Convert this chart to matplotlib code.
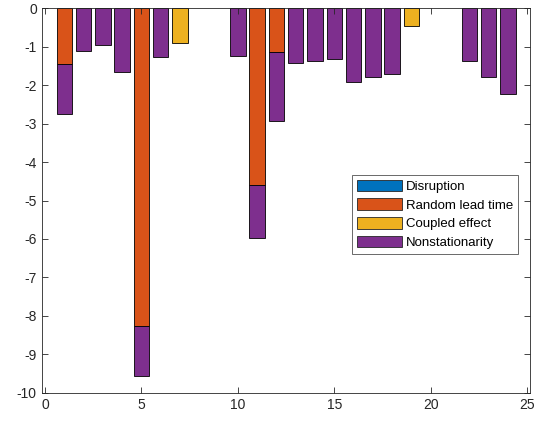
import numpy as np
import matplotlib
matplotlib.use("Agg")
import matplotlib.pyplot as plt
from matplotlib.patches import Patch

plt.rcParams['font.family'] = ['Liberation Sans', 'DejaVu Sans']
plt.rcParams['axes.unicode_minus'] = False

positions = np.arange(1, 25)
series_names = ["Disruption", "Random lead time", "Coupled effect", "Nonstationarity"]
disruption = [0.0] * 24
random_lead_time = [-1.45, 0, 0, 0, -8.27, 0, 0, 0, 0, 0, -4.60, -1.13,
                    0, 0, 0, 0, 0, 0, 0, 0, 0, 0, 0, 0]
coupled_effect = [0, 0, 0, 0, 0, 0, -0.91, 0, 0, 0, 0, 0,
                  0, 0, 0, 0, 0, 0, -0.46, 0, 0, 0, 0, 0]
nonstationarity = [-1.29, -1.10, -0.96, -1.66, -1.30, -1.27, 0, 0, 0, -1.24, -1.38, -1.79,
                   -1.42, -1.36, -1.32, -1.92, -1.78, -1.71, 0, 0, 0, -1.36, -1.78, -2.23]
colors = ["#0072BD", "#D95319", "#EDB120", "#7E2F8E"]

W, H = 544, 421
fig = plt.figure(figsize=(W / 100, H / 100), dpi=100)
ax = fig.add_axes([41.7 / W, 1 - 392.7 / H, (530 - 41.7) / W, (392.7 - 8.3) / H])

# stacked bars; segments with zero height are not drawn
bottom = np.zeros(len(positions))
handles = []
for name, vals, c in zip(series_names,
                         [disruption, random_lead_time, coupled_effect, nonstationarity],
                         colors):
    vals = np.asarray(vals, dtype=float)
    m = vals != 0
    if m.any():
        ax.bar(positions[m], vals[m], width=0.8, bottom=bottom[m], color=c,
               edgecolor="black", linewidth=0.6)
    handles.append(Patch(facecolor=c, edgecolor="#262626", linewidth=0.6, label=name))
    bottom = bottom + vals

ax.set_xlim(-0.17, 25.15)
ax.set_ylim(-10, 0)
ax.set_xticks(np.arange(0, 26, 5))
ax.set_yticks(np.arange(-10, 1, 1))
ax.tick_params(direction="in", top=True, right=True, length=4, width=0.6,
               colors="#262626", labelsize=10, labelcolor="#262626")
for s in ax.spines.values():
    s.set_color("#262626")
    s.set_linewidth(0.6)

leg = ax.legend(handles=handles, loc="upper left",
                bbox_to_anchor=(351.7 / W, 1 - 174.7 / H),
                bbox_transform=fig.transFigure, fontsize=9.5, frameon=True,
                fancybox=False, edgecolor="#262626", handlelength=3.4,
                handleheight=0.95, handletextpad=0.3, labelspacing=0.42,
                borderpad=0.38, borderaxespad=0)
leg.get_frame().set_linewidth(0.6)

fig.savefig("out.png", dpi=100)
